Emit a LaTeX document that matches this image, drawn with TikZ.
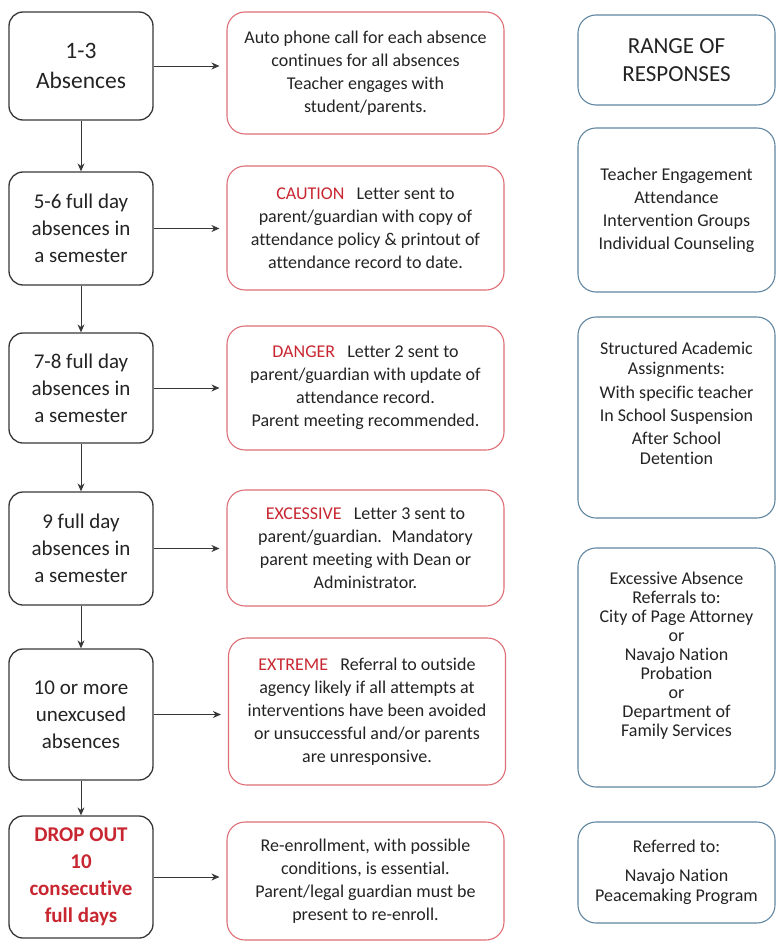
\documentclass[tikz,border=0pt]{standalone}
\usepackage{fontspec}
\setmainfont{Carlito}[Ligatures=NoCommon]
\usetikzlibrary{arrows.meta,positioning}
\definecolor{alertred}{RGB}{200,38,48}
\definecolor{boxred}{RGB}{222,110,118}
\definecolor{boxblue}{RGB}{96,134,160}
\definecolor{boxgray}{RGB}{55,55,55}
\definecolor{txt}{RGB}{35,35,35}
\newcommand{\warnword}[1]{\textcolor{alertred}{#1}}

\begin{document}
\begin{tikzpicture}[x=1pt, y=-1pt, inner sep=0pt,
    stage/.style={draw=boxgray, line width=1.3pt, rounded corners=14pt, minimum width=144pt,
      align=center, text=txt, font=\fontsize{21}{27}\selectfont},
    action/.style={draw=boxred, line width=1.1pt, rounded corners=18pt, minimum width=277pt,
      align=center, text=txt, font=\fontsize{18}{23}\selectfont},
    response/.style={draw=boxblue, line width=1.1pt, rounded corners=18pt, minimum width=197pt,
      align=center, text=txt, font=\fontsize{18}{20}\selectfont},
    flow/.style={-{Stealth[length=8pt, width=7pt]}, line width=0.9pt, boxgray}]
    \useasboundingbox (0,0) rectangle (776,942);

    % absence stages
    \node[stage, minimum height=108pt, font=\fontsize{23.5}{30}\selectfont] (s1) at (81,66) {1-3\\Absences};
    \node[stage, minimum height=113pt] (s2) at (81,228.5) {5-6 full day\\absences in\\a semester};
    \node[stage, minimum height=110pt] (s3) at (81,388) {7-8 full day\\absences in\\a semester};
    \node[stage, minimum height=113pt] (s4) at (81,548.5) {9 full day\\absences in\\a semester};
    \node[stage, minimum height=131pt] (s5) at (81,714.5) {10 or more\\unexcused\\absences};
    \node[stage, minimum height=122pt, text=alertred, font=\bfseries\fontsize{21}{27}\selectfont] (s6) at (81,877) {DROP OUT\\10\\consecutive\\full days};

    % actions taken
    \node[action, minimum height=122pt] (a1) at (365.5,73) {Auto phone call for each absence\\continues for all absences\\Teacher engages with\\student/parents.};
    \node[action, minimum height=124pt] (a2) at (365.5,228) {\warnword{CAUTION}~~ Letter sent to\\parent/guardian with copy of\\attendance policy \& printout of\\attendance record to date.};
    \node[action, minimum height=124pt] (a3) at (365.5,388) {\warnword{DANGER}~~ Letter 2 sent to\\parent/guardian with update of\\attendance record.\\Parent meeting recommended.};
    \node[action, minimum height=116pt] (a4) at (365.5,548) {\warnword{EXCESSIVE}~~ Letter 3 sent to\\parent/guardian.~ Mandatory\\parent meeting with Dean or\\Administrator.};
    \node[action, minimum height=147pt] (a5) at (367,711.5) {\warnword{EXTREME}~~ Referral to outside\\agency likely if all attempts at\\interventions have been avoided\\or unsuccessful and/or parents\\are unresponsive.};
    \node[action, minimum height=118pt] (a6) at (365.5,881) {Re-enrollment, with possible\\conditions, is essential.\\Parent/legal guardian must be\\present to re-enroll.};

    % range of responses
    \node[response, minimum height=90pt, font=\fontsize{23}{28}\selectfont] (r1) at (676.5,60) {RANGE OF\\RESPONSES};
    \node[response, minimum height=164pt, font=\fontsize{18}{23}\selectfont] (r2) at (676.5,210) {Teacher Engagement\\Attendance\\Intervention Groups\\Individual Counseling};
    \node[response, minimum height=201pt] (r3) at (676.5,417.5) {Structured Academic\\Assignments:\\[4pt]With specific teacher\\[3pt]In School Suspension\\[3pt]After School\\Detention\rule[-28pt]{0pt}{0pt}};
    \node[response, minimum height=239pt, font=\fontsize{18}{19}\selectfont] (r4) at (676.5,667.5) {Excessive Absence\\Referrals to:\\City of Page Attorney\\or\\Navajo Nation\\Probation\\or\\Department of\\Family Services\rule[-26pt]{0pt}{0pt}};
    \node[response, minimum height=101pt] (r5) at (676.5,872.5) {Referred to:\\[9pt]Navajo Nation\\Peacemaking Program};

    % arrows
    \foreach \i/\j in {1/2,2/3,3/4,4/5,5/6}
        \draw[flow] (s\i) -- (s\j);
    \foreach \i in {1,...,6}
        \draw[flow, shorten >=7pt] (s\i.east) -- (s\i.east -| a\i.west);
\end{tikzpicture}
\end{document}
